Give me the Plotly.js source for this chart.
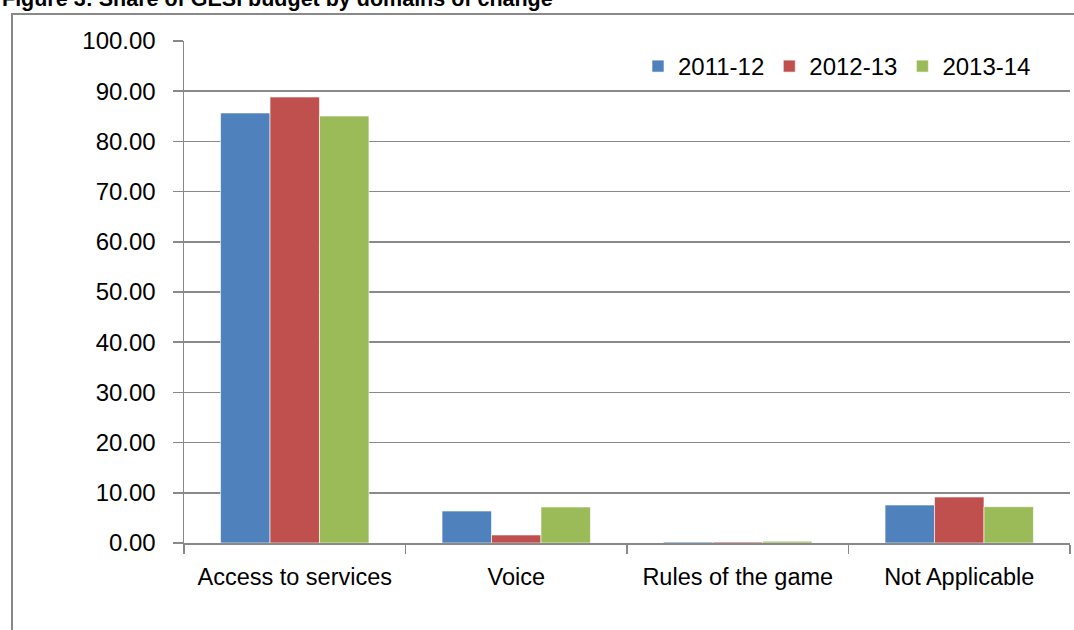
<!DOCTYPE html>
<html><head><meta charset="utf-8">
<script src="https://cdn.plot.ly/plotly-3.0.1.min.js"></script>
<style>html,body{margin:0;padding:0;background:#fff}#chart{width:1074px;height:630px}</style>
</head><body><div id="chart"></div>
<script>
const categories = ["Access to services", "Voice", "Rules of the game", "Not Applicable"];
const seriesNames = ["2011-12", "2012-13", "2013-14"];
const values2011 = [85.66, 6.37, 0.2, 7.57];
const values2012 = [88.84, 1.6, 0.2, 9.16];
const values2013 = [85.06, 7.17, 0.35, 7.23];
const colors = ["#4F81BD", "#C0504D", "#9BBB59"];
const yTicks = [0,10,20,30,40,50,60,70,80,90,100];
const yTickLabels = yTicks.map(v => v.toFixed(2));

const FONT = "Liberation Sans, Arial, sans-serif";
const allVals = [values2011, values2012, values2013];
const traces = allVals.map((vals, i) => ({
  type: "bar", name: seriesNames[i], x: categories, y: vals,
  marker: {color: colors[i], line: {color: "rgba(255,255,255,0.6)", width: 1}}
}));

const L = 184, R = 4, T = 41, B = 87, W = 1074, H = 630;
const pw = W - L - R, ph = H - T - B;
const px = x => (x - L) / pw;
const py = y => (H - B - y) / ph;

const layout = {
  width: W, height: H,
  margin: {l: L, r: R, t: T, b: B, pad: 0},
  paper_bgcolor: "#fff", plot_bgcolor: "#fff",
  font: {family: FONT, size: 23, color: "#000"},
  barmode: "group", bargap: 0.33, bargroupgap: 0,
  showlegend: true,
  legend: {orientation: "h", x: px(638), y: py(44), xanchor: "left", yanchor: "top",
    font: {family: FONT, size: 24, color: "#000"}, bgcolor: "rgba(0,0,0,0)", itemwidth: 30, tracegroupgap: 0},
  xaxis: {type: "category", showgrid: false, showline: true, linecolor: "#898989", linewidth: 1.5,
    ticks: "outside", ticklen: 9, tickcolor: "#898989", tickwidth: 1.5, tickson: "boundaries",
    tickfont: {family: FONT, size: 23.5, color: "#000"}, ticklabelstandoff: 12, zeroline: false, fixedrange: true},
  yaxis: {range: [0, 100], tickvals: yTicks, ticktext: yTickLabels, showgrid: true, gridcolor: "#898989", gridwidth: 1.5,
    showline: true, linecolor: "#898989", linewidth: 1.5, ticks: "outside", ticklen: 10, tickcolor: "#898989", tickwidth: 1.5,
    tickfont: {family: FONT, size: 24, color: "#000"}, ticklabelstandoff: 12, zeroline: false, fixedrange: true},
  shapes: [{type: "rect", xref: "paper", yref: "paper", x0: px(12), x1: px(1090), y0: py(650), y1: py(14),
    line: {color: "#898989", width: 2}, fillcolor: "rgba(0,0,0,0)", layer: "below"}],
  annotations: [{text: "<b>Figure 3: Share of GESI budget by domains of change</b>", xref: "paper", yref: "paper",
    x: px(0), y: py(8), xanchor: "left", yanchor: "bottom", showarrow: false, yshift: -5,
    font: {family: FONT, size: 21.5, color: "#000"}}]
};
Plotly.newPlot("chart", traces, layout, {displayModeBar: false, staticPlot: true});
</script></body></html>
